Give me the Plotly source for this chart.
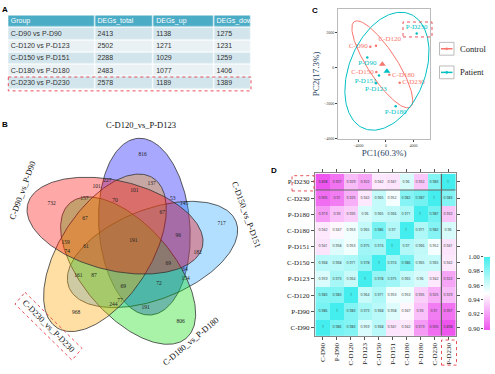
import numpy as np
import plotly.graph_objects as go

W, H = 495, 374
def fx(px): return px / W
def fy(py): return 1 - py / H

# ---------------- Panel A data ----------------
table_header = ["Group", "DEGs_total", "DEGs_up", "DEGs_down"]
groups = ["C-D90 vs P-D90", "C-D120 vs P-D123", "C-D150 vs P-D151", "C-D180 vs P-D180", "C-D230 vs P-D230"]
degs_total = [2413, 2502, 2288, 2483, 2578]
degs_up = [1138, 1271, 1029, 1077, 1189]
degs_down = [1275, 1231, 1259, 1406, 1389]

# ---------------- Panel B data ----------------
venn_sets = ["C-D90_vs_P-D90", "C-D120_vs_P-D123", "C-D150_vs_P-D151", "C-D180_vs_P-D180", "C-D230_vs_P-D230"]
venn_counts = [816, 732, 717, 806, 968, 227, 101, 137, 157, 70, 101, 53, 145, 67, 67, 191,
               159, 61, 74, 96, 182, 161, 87, 69, 69, 72, 244, 77, 191, 64, 154]
venn_lx = [142.7, 51.7, 221.7, 180.7, 76, 107.3, 96.5, 151.7, 84.3, 115, 134.3, 172.7, 184, 85, 162.3, 133.3,
           65.7, 86, 67.3, 178.3, 197.7, 78.3, 94, 123.3, 168.3, 159, 113.3, 120, 145.7, 185, 185.7]
venn_ly = [153.3, 203.3, 223.3, 322.7, 314, 180, 186, 182.3, 197.7, 200, 190, 197.7, 202.7, 217.7, 211.7, 241,
           242.7, 246.7, 251.7, 235.7, 252.7, 276, 276, 287.7, 264.3, 284.3, 305.7, 301.7, 308.3, 270, 279.3]

# ---------------- Panel C data ----------------
pca_samples = ["C-D90", "C-D120", "C-D150", "C-D180", "C-D230",
               "P-D90", "P-D123", "P-D151", "P-D180", "P-D230"]
pca_group = ["Control"] * 5 + ["Patient"] * 5
pc1 = [-2280, -1455, -1410, 485, 1990, -2720, -1455, -1018, 1410, 4465]
pc2 = [1200, 1260, -222, -389, -833, 594, -870, -428, -2167, 1944]
pca_textpos = ["middle left", "top right", "middle left", "middle right", "middle right",
               "bottom center", "bottom center", "bottom left", "bottom center", "top center"]
legend_groups = ["Control", "Patient"]

# ---------------- Panel D data ----------------
samples = ["C-D90", "P-D90", "C-D120", "P-D123", "C-D150", "P-D151", "C-D180", "P-D180", "C-D230", "P-D230"]
corr = [
    [1, 0.986, 0.983, 0.959, 0.968, 0.941, 0.942, 0.919, 0.905, 0.898],
    [0.986, 1, 0.983, 0.973, 0.968, 0.958, 0.947, 0.93, 0.91, 0.907],
    [0.983, 0.983, 1, 0.964, 0.971, 0.953, 0.953, 0.935, 0.925, 0.929],
    [0.959, 0.973, 0.964, 1, 0.978, 0.975, 0.965, 0.96, 0.942, 0.922],
    [0.968, 0.968, 0.971, 0.978, 1, 0.974, 0.986, 0.965, 0.965, 0.942],
    [0.941, 0.958, 0.953, 0.975, 0.974, 1, 0.97, 0.966, 0.952, 0.941],
    [0.942, 0.947, 0.953, 0.965, 0.986, 0.97, 1, 0.971, 0.982, 0.96],
    [0.919, 0.93, 0.935, 0.96, 0.965, 0.966, 0.971, 1, 0.987, 0.932],
    [0.905, 0.91, 0.925, 0.942, 0.965, 0.952, 0.982, 0.987, 1, 0.983],
    [0.898, 0.907, 0.929, 0.922, 0.942, 0.941, 0.96, 0.932, 0.983, 1],
]
cbar_ticks = [0.90, 0.92, 0.94, 0.96, 0.98, 1.00]

SERIF = "Liberation Serif, Times New Roman, serif"
SANS = "Liberation Sans, Arial, sans-serif"
RED = "#F8766D"
TEAL = "#00BFC4"
DASH_RED = "#E8505A"

fig = go.Figure()

# ---------- A: table (cells drawn as a heatmap on a px-scaled axis) ----------
col_edges = [8.3, 95, 153.7, 214, 251]
row_edges = [11.7, 24.3, 36.7, 49, 61.7, 74, 87.3]
n_rows = len(groups) + 1
fill_kind = [[2] * 4] + [[(r % 2)] * 4 for r in range(len(groups))]
fig.add_trace(go.Heatmap(z=fill_kind, x=col_edges, y=row_edges, xaxis="x4", yaxis="y4",
                         zmin=0, zmax=2, showscale=False, xgap=1.2, ygap=1.2, hoverinfo="skip",
                         colorscale=[[0, "#D2E5EC"], [0.5, "#E9F1F4"], [1, "#4BACC6"]]))
table_cols = [[table_header[c]] + [str(v) for v in col] for c, col in
              enumerate([groups, degs_total, degs_up, degs_down])]
row_mid = [(row_edges[i] + row_edges[i + 1]) / 2 for i in range(n_rows)]
for c in range(4):
    fig.add_trace(go.Scatter(x=[col_edges[c] + 2.5] * n_rows, y=row_mid, mode="text",
                             text=table_cols[c], textposition="middle right",
                             textfont=dict(size=7, family=SANS, color=["white"] + ["#333333"] * (n_rows - 1)),
                             xaxis="x4", yaxis="y4", showlegend=False, hoverinfo="skip"))
fig.add_shape(type="rect", xref="x4", yref="y4", x0=8.3, x1=251, y0=74.2, y1=88.3,
              line=dict(color=DASH_RED, width=1, dash="dot"))

# ---------- B: venn (five rotated ellipses, 72 deg apart) ----------
vcx, vcy = 129.0, 246.0
A_ax, B_ax, dist = 90.0, 45.5, 25.0
# set order: C-D90 (red), C-D120 (blue), C-D150 (light blue), C-D180 (green), C-D230 (yellow)
axis_angles = [194, -94, -22, 50, 122]
venn_fills = ["rgba(255,0,0,0.34)", "rgba(0,0,255,0.34)", "rgba(30,160,255,0.34)",
              "rgba(0,220,0,0.34)", "rgba(255,165,0,0.36)"]
draw_order = [1, 2, 3, 4, 0]
t = np.linspace(0, 2 * np.pi, 241)
for k in draw_order:
    phi = np.deg2rad(axis_angles[k])
    th = phi + np.deg2rad(42)
    cx = vcx + dist * np.cos(th)
    cy = vcy + dist * np.sin(th)
    ex = cx + A_ax * np.cos(t) * np.cos(phi) - B_ax * np.sin(t) * np.sin(phi)
    ey = cy + A_ax * np.cos(t) * np.sin(phi) + B_ax * np.sin(t) * np.cos(phi)
    fig.add_trace(go.Scatter(x=ex, y=ey, mode="lines", fill="toself", fillcolor=venn_fills[k],
                             line=dict(color="#333333", width=0.8), xaxis="x3", yaxis="y3",
                             hoverinfo="skip", showlegend=False))
fig.add_trace(go.Scatter(x=venn_lx, y=venn_ly, mode="text", text=[str(v) for v in venn_counts],
                         textfont=dict(size=5.5, family=SERIF, color="#222222"),
                         xaxis="x3", yaxis="y3", showlegend=False, hoverinfo="skip"))
venn_title_pos = [(22, 190, -70), (141, 123, 0), (247, 214, 70), (191, 343, -40), (49, 327, 45)]
for name, (px, py, ang) in zip(venn_sets, venn_title_pos):
    fig.add_annotation(x=px, y=py, xref="x3", yref="y3", text=name, showarrow=False,
                       xanchor="center", yanchor="middle",
                       textangle=ang, font=dict(size=8.5, family=SERIF, color="#111111"))
fig.add_shape(type="path", path="M 25 293 L 82 350 L 72 362 L 15 305 Z", xref="x3", yref="y3",
              line=dict(color=DASH_RED, width=1, dash="dot"))

# ---------- C: PCA ----------
def conf_ellipse(xs, ys, r):
    xs = np.asarray(xs, float); ys = np.asarray(ys, float)
    cov = np.cov(xs, ys)
    vals, vecs = np.linalg.eigh(cov)
    tt = np.linspace(0, 2 * np.pi, 181)
    circ = np.vstack([np.cos(tt), np.sin(tt)]) * (r * np.sqrt(vals))[:, None]
    pts = vecs @ circ
    return xs.mean() + pts[0], ys.mean() + pts[1]

for grp, col, r in [("Control", RED, 2.55), ("Patient", TEAL, 2.15)]:
    idx = [i for i, g in enumerate(pca_group) if g == grp]
    gx = [pc1[i] for i in idx]; gy = [pc2[i] for i in idx]
    ex, ey = conf_ellipse(gx, gy, r)
    fig.add_trace(go.Scatter(x=ex, y=ey, mode="lines", line=dict(color=col, width=1),
                             showlegend=False, hoverinfo="skip"))
    fig.add_trace(go.Scatter(x=gx, y=gy, mode="markers+text", text=[pca_samples[i] for i in idx],
                             textposition=[pca_textpos[i] for i in idx],
                             marker=dict(color=col, size=2.5),
                             textfont=dict(color=col, size=7, family=SERIF), showlegend=False))
    fig.add_trace(go.Scatter(x=[np.mean(gx)], y=[np.mean(gy)], mode="markers",
                             marker=dict(symbol="triangle-up", color=col, size=6), showlegend=False))
fig.add_shape(type="rect", x0=fx(403), x1=fx(432), y0=fy(33.5), y1=fy(18.3), xref="paper", yref="paper",
              line=dict(color=DASH_RED, width=1, dash="dot"))

# manual legend for panel C
leg_y = [45.5, 69.5]
for grp, col, ly in zip(legend_groups, [RED, TEAL], leg_y):
    fig.add_shape(type="rect", xref="paper", yref="paper", x0=fx(439.5), x1=fx(454), y0=fy(ly + 6.5),
                  y1=fy(ly - 6.5), line=dict(color="#BBBBBB", width=1), fillcolor="white")
    fig.add_shape(type="line", xref="paper", yref="paper", x0=fx(441), x1=fx(452.5), y0=fy(ly), y1=fy(ly),
                  line=dict(color=col, width=1.5))
    fig.add_shape(type="circle", xref="paper", yref="paper", x0=fx(445.7), x1=fx(447.8),
                  y0=fy(ly + 1.05), y1=fy(ly - 1.05), line=dict(color=col, width=0.5), fillcolor=col)
    fig.add_annotation(x=fx(458), y=fy(ly), xref="paper", yref="paper", text=grp, showarrow=False,
                       xanchor="left", yanchor="middle", font=dict(size=8.5, family=SERIF, color="#222"))

# ---------- D: heatmap ----------
fig.add_trace(go.Heatmap(
    z=corr, x=samples, y=samples, xaxis="x2", yaxis="y2",
    zmin=0.898, zmax=1.0,
    colorscale=[[0, "#EE55EE"], [0.5, "#FFFFFF"], [1, "#44EEEE"]],
    text=[[("%g" % v) for v in row] for row in corr], texttemplate="%{text}",
    textfont=dict(size=3.5, color="#333333"), xgap=0, ygap=0, hoverinfo="skip",
    colorbar=dict(x=fx(484), xanchor="left", thickness=6, y=fy(257), yanchor="top",
                  len=(331 - 257) / H, lenmode="fraction", ypad=0, xpad=0,
                  showticklabels=False, ticks="", outlinewidth=0),
))
fig.add_trace(go.Scatter(x=[None], y=[None], xaxis="x5", yaxis="y5", showlegend=False))
fig.add_shape(type="line", xref="x2", yref="y2", x0=8.5, x1=8.5, y0=-0.5, y1=9.5,
              line=dict(color="#666666", width=1.2))
fig.add_shape(type="line", xref="x2", yref="y2", x0=-0.5, x1=9.5, y0=8.5, y1=8.5,
              line=dict(color="#666666", width=1.2))
fig.add_shape(type="rect", x0=fx(292), x1=fx(314), y0=fy(190), y1=fy(174.5), xref="paper", yref="paper",
              line=dict(color=DASH_RED, width=1, dash="dot"))
fig.add_shape(type="rect", x0=fx(441.5), x1=fx(456.5), y0=fy(367), y1=fy(341.5), xref="paper", yref="paper",
              line=dict(color=DASH_RED, width=1, dash="dot"))

# panel letters
for lab, px, py in [("A", 5, 6), ("B", 5, 122), ("C", 315, 7), ("D", 274, 169)]:
    fig.add_annotation(x=fx(px), y=fy(py), xref="paper", yref="paper", text="<b>%s</b>" % lab,
                       xanchor="center", yanchor="middle",
                       showarrow=False, font=dict(size=8, family=SANS, color="black"))

axis_common = dict(showgrid=False, zeroline=False)
fig.update_layout(
    width=W, height=H, margin=dict(l=0, r=0, t=0, b=0),
    paper_bgcolor="white", plot_bgcolor="rgba(0,0,0,0)", showlegend=False,
    xaxis=dict(domain=[fx(338), fx(430)], range=[-6980, 6400], tickvals=[-4000, 0, 4000],
               ticks="outside", ticklen=2, tickcolor="#444", tickfont=dict(size=4, family=SERIF, color="#444"),
               showline=True, linecolor="#BBBBBB", mirror=True, anchor="y",
               title=dict(text="PC1(60.3%)", font=dict(size=9, family=SERIF), standoff=2), **axis_common),
    yaxis=dict(domain=[fy(137), fy(5)], range=[-4000, 3333], tickvals=[-4000, -2000, 0, 2000],
               ticks="outside", ticklen=2, tickcolor="#444", tickfont=dict(size=4, family=SERIF, color="#444"),
               showline=True, linecolor="#BBBBBB", mirror=True, anchor="x",
               title=dict(text="PC2(17.3%)", font=dict(size=9, family=SERIF), standoff=2), **axis_common),
    xaxis2=dict(domain=[fx(315), fx(456)], anchor="y2", tickangle=-90, ticks="outside", ticklen=3,
                tickcolor="#555", tickfont=dict(size=7, family=SERIF, color="#222"),
                showline=True, linecolor="#888888", mirror="ticks", **axis_common),
    yaxis2=dict(domain=[fy(337.5), fy(172)], anchor="x2", ticks="outside", ticklen=3,
                tickcolor="#555", tickfont=dict(size=7, family=SERIF, color="#222"),
                showline=True, linecolor="#888888", mirror="ticks", **axis_common),
    xaxis3=dict(domain=[0, fx(255)], range=[0, 255], visible=False, anchor="y3"),
    yaxis3=dict(domain=[0, fy(120)], range=[374, 120], visible=False, anchor="x3"),
    xaxis4=dict(domain=[0, fx(260)], range=[0, 260], visible=False, anchor="y4"),
    yaxis4=dict(domain=[fy(95), 1], range=[95, 0], visible=False, anchor="x4"),
    xaxis5=dict(domain=[fx(484), fx(490)], visible=False, anchor="y5"),
    yaxis5=dict(domain=[fy(331), fy(257)], range=[0.898, 1.0], anchor="x5", side="left",
                tickvals=cbar_ticks, ticktext=["%.2f" % v for v in cbar_ticks], ticks="outside",
                ticklen=2, tickcolor="#555", tickfont=dict(size=6.5, family=SERIF, color="#222"),
                showline=False, **axis_common),
)

fig.write_html("out.html", config={"displayModeBar": False, "staticPlot": True},
               post_script="document.body.style.margin='0';document.body.style.overflow='hidden';")
